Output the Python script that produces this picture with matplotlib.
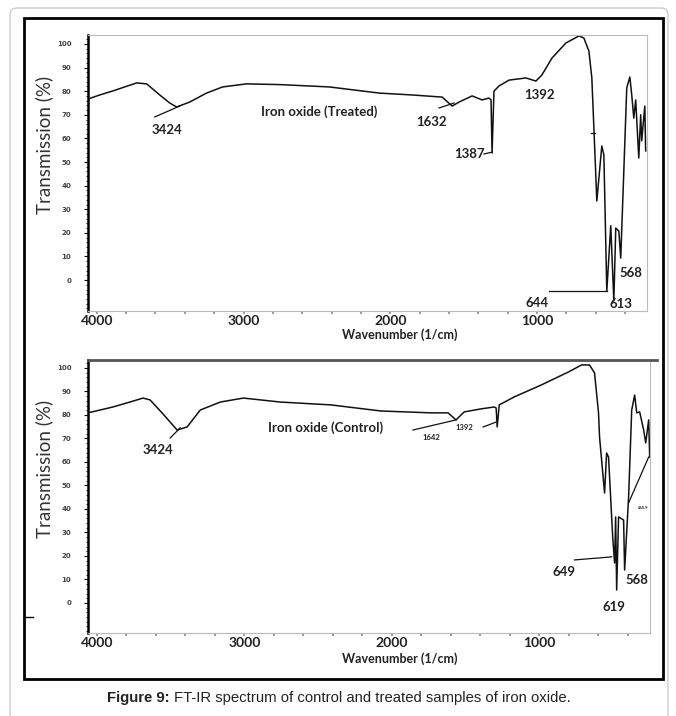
import matplotlib
matplotlib.use("Agg")
import matplotlib.pyplot as plt
from matplotlib.patches import Rectangle, FancyBboxPatch
from matplotlib.lines import Line2D
from matplotlib.ticker import MultipleLocator

# treated sample (wavenumber 1/cm, transmission %)
treated_wn = [4060, 3980, 3891, 3810, 3728, 3660, 3571, 3503, 3456, 3367, 3252, 3143,
              2980, 2755, 2415, 2075, 1850, 1646, 1578, 1531, 1442, 1374, 1327, 1313,
              1306, 1293, 1259, 1190, 1075, 1007, 966, 898, 803, 714, 680, 646, 626,
              612, 592, 558, 544, 524, 497, 476, 463, 442, 429, 388, 367, 354, 340,
              327, 306, 293, 286, 265, 259]
treated_t = [76.7, 78.4, 80.1, 81.8, 83.5, 83.1, 78.4, 75.0, 73.3, 75.4, 79.2, 81.8,
             83.1, 82.8, 81.8, 79.2, 78.4, 77.5, 73.7, 75.4, 78.0, 76.3, 77.1, 76.3,
             53.8, 80.0, 82.2, 84.7, 85.6, 84.3, 86.9, 94.0, 100.4, 103.4, 102.5, 97.0,
             85.6, 64.4, 33.5, 56.8, 53.0, -4.7, 23.0, -8.9, 22.0, 20.8, 9.3, 81.4,
             86.0, 78.4, 68.6, 76.3, 51.7, 70.0, 59.0, 73.7, 54.7]

# control sample
control_wn = [4060, 3891, 3776, 3687, 3639, 3551, 3456, 3388, 3299, 3163, 3007, 2755,
              2415, 2075, 1735, 1619, 1565, 1510, 1395, 1306, 1293, 1286, 1272, 1170,
              986, 803, 714, 660, 626, 599, 592, 558, 544, 531, 503, 490, 483, 476,
              463, 429, 422, 395, 374, 354, 340, 320, 293, 279, 259, 252]
control_t = [80.9, 83.4, 85.5, 87.2, 86.4, 80.4, 73.6, 74.9, 82.1, 85.5, 87.2, 85.5,
             84.3, 81.7, 80.9, 80.9, 77.9, 81.3, 82.6, 83.4, 83.0, 74.9, 84.3, 87.7,
             92.8, 98.3, 101.3, 101.3, 97.9, 80.9, 70.6, 46.8, 63.8, 62.1, 28.1, 17.0,
             36.6, 5.5, 36.6, 35.3, 14.0, 45.1, 82.1, 88.5, 80.9, 81.3, 73.6, 68.1,
             77.9, 62.1]

xticks = [4000, 3000, 2000, 1000]
yticks = list(range(0, 101, 10))

# peak labels: (text, x, y, size)
treated_labels = [("3424", 3524, 63.6, 9.5), ("Iron oxide (Treated)", 2483, 71.2, 9.5),
                  ("1632", 1721, 67.0, 9.5), ("1387", 1463, 53.4, 9.5), ("1392", 986, 78.4, 9.5),
                  ("644", 1000, -9.7, 9.5), ("613", 429, -10.2, 9.5), ("568", 361, 3.0, 9.5)]
treated_leaders = [((3605, 3435), (69.1, 73.7)), ((1667, 1565), (72.9, 75.0)),
                   ((1361, 1306), (53.4, 54.2)), ((918, 524), (-4.7, -4.7)),
                   ((633, 606), (62.3, 62.3))]

control_labels = [("3424", 3585, 65.1, 9.5), ("Iron oxide (Control)", 2449, 74.5, 9.5),
                  ("1642", 1735, 70.6, 5.5), ("1392", 1510, 74.5, 5.5), ("649", 830, 13.2, 9.5),
                  ("619", 497, -1.7, 9.5), ("568", 340, 9.8, 9.5), ("660.9", 300, 40.5, 3)]
control_leaders = [((3503, 3435), (70.2, 74.5)), ((1857, 1565), (73.6, 77.9)),
                   ((1381, 1293), (74.9, 77.0)), ((762, 510), (18.3, 19.6)),
                   ((395, 259), (42.6, 62.1))]

W, H = 676, 716
fig = plt.figure(figsize=(W / 100, H / 100), dpi=100)

def fx(px):
    return px / W

def fy(py):
    return 1 - py / H

# page border and black frame
fig.patches.append(FancyBboxPatch((fx(10), fy(722)), fx(658), (722 - 8) / H,
                                  boxstyle="round,pad=0,rounding_size=0.01",
                                  transform=fig.transFigure, fill=False,
                                  edgecolor="#cccccc", lw=1))
fig.patches.append(Rectangle((fx(24), fy(679)), fx(639), (679 - 18) / H,
                             transform=fig.transFigure, fill=False,
                             edgecolor="black", lw=2))

lab_font = ["Lato", "DejaVu Sans"]


def panel(rect, wn, t, labels, leaders, ylim):
    ax = fig.add_axes(rect)
    ax.plot(wn, t, color="#111111", lw=1.1)
    for (xs, ys) in leaders:
        ax.plot(xs, ys, color="#111111", lw=0.9)
    for txt, x, y, s in labels:
        ax.text(x, y, txt, fontsize=s, fontweight="bold", family=lab_font,
                color="#222222", ha="center", va="center")
    ax.set_xlim(4060, 250)
    ax.set_ylim(*ylim)
    ax.set_xticks(xticks)
    ax.set_xticklabels([str(v) for v in xticks], fontsize=10, fontweight="bold",
                       family=lab_font, color="#222222")
    ax.xaxis.set_minor_locator(MultipleLocator(200))
    ax.tick_params(axis="x", which="both", length=2, width=1.2, color="#888888",
                   direction="out", pad=1)
    ax.set_yticks(yticks)
    ax.set_yticklabels([str(v) for v in yticks], fontsize=5, fontweight="bold",
                       color="#444444")
    ax.yaxis.set_minor_locator(MultipleLocator(2))
    ax.tick_params(axis="y", which="major", length=3, width=0.8, pad=9)
    ax.tick_params(axis="y", which="minor", length=1.5, width=0.6)
    ax.spines["left"].set_linewidth(1.8)
    ax.spines["left"].set_color("black")
    for s in ("right", "top", "bottom"):
        ax.spines[s].set_color("#bbbbbb")
        ax.spines[s].set_linewidth(0.8)
    ax.set_ylabel("Transmission (%)", fontsize=13.5, family=lab_font,
                  color="#333333", labelpad=2)
    ax.yaxis.set_label_coords(-0.062, 0.6)
    return ax


ax1 = panel([fx(88), fy(311), fx(647 - 88), (311 - 35) / H],
            treated_wn, treated_t, treated_labels, treated_leaders, (-13.1, 103.8))
ax2 = panel([fx(88), fy(633), fx(650 - 88), (633 - 360) / H],
            control_wn, control_t, control_labels, control_leaders, (-12.8, 103.4))
ax2.spines["top"].set_visible(False)

# heavy rule above lower panel
fig.lines.append(Line2D([fx(88), fx(657)], [fy(360), fy(360)], transform=fig.transFigure,
                        color="#555555", lw=2))
fig.lines.append(Line2D([fx(24), fx(33)], [fy(617), fy(617)], transform=fig.transFigure,
                        color="black", lw=1))

for py in (335, 659):
    fig.text(fx(400), fy(py), "Wavenumber (1/cm)", fontsize=9, fontweight="bold",
             family=lab_font, color="#222222", ha="center", va="center")

# caption: bold lead-in, then plain text
cap_font = ["Liberation Sans", "DejaVu Sans"]
t1 = fig.text(fx(107), fy(698), "Figure 9:", fontsize=10.7, fontweight="bold",
              family=cap_font, ha="left", va="center", color="#222222")
fig.canvas.draw()
bb = t1.get_window_extent(renderer=fig.canvas.get_renderer())
fig.text(bb.x1 / W + fx(4), fy(698), "FT-IR spectrum of control and treated samples of iron oxide.",
         fontsize=10.7, family=cap_font, ha="left", va="center", color="#222222")

fig.savefig("out.png", dpi=100)
